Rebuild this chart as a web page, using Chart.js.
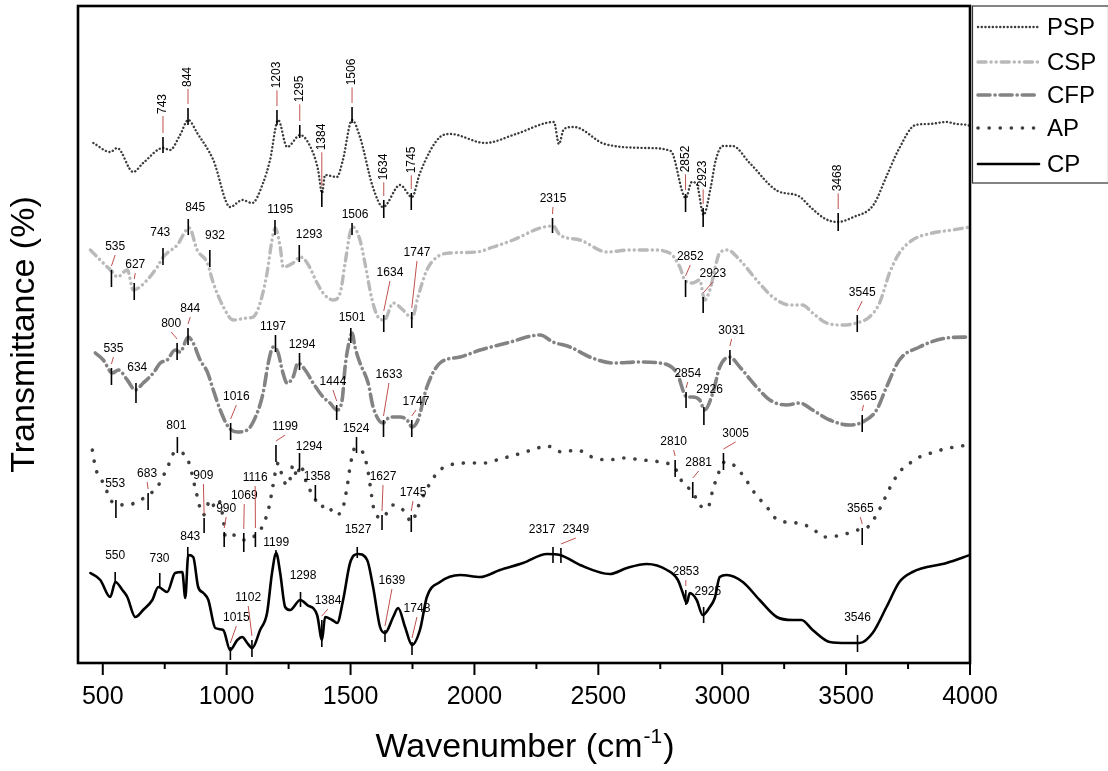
<!DOCTYPE html>
<html><head><meta charset="utf-8">
<script src="https://cdn.jsdelivr.net/npm/chart.js@4/dist/chart.umd.min.js"></script>
<style>html,body{margin:0;padding:0;background:#fff;}#wrap{width:1108px;height:771px;}</style>
</head><body><div id="wrap"><canvas id="c" width="1108" height="771"></canvas></div>
<script>
const seriesNames = ['PSP','CSP','CFP','AP','CP'];
const xTickValues = [500,1000,1500,2000,2500,3000,3500,4000];
const xTickLabels = ['500','1000','1500','2000','2500','3000','3500','4000'];
const xMinorTicks = [750,1250,1750,2250,2750,3250,3750];

const pspWn = [462,530,558,623,663,744,771,812,845,881,946,1014,1063,1103,1147,1175,1208,1244,1297,1349,1369,1385,1397,1445,1469,1506,1538,1590,1631,1700,1748,1780,1861,1903,2043,2168,2321,2341,2361,2402,2526,2696,2792,2853,2877,2897,2925,2953,2974,3002,3042,3111,3224,3308,3360,3417,3465,3530,3610,3667,3711,3780,3836,3905,3945,3990,4000];
const pspT  = [520,511,515,491,500,515,513,528,543,530,503,456,463,460,480,503,543,516,528,510,493,470,488,486,503,543,526,476,456,478,466,490,526,529,520,529,541,519,534,536,519,515,512,465,481,479,448,475,503,517,517,500,472,467,455,444,441,446,458,489,513,538,539,541,539,538,537];

const cspWn = [450,502,539,559,599,623,679,720,744,800,849,881,922,946,987,1026,1083,1107,1135,1163,1183,1196,1216,1228,1268,1297,1325,1365,1389,1430,1458,1478,1498,1510,1538,1558,1587,1611,1636,1672,1712,1748,1772,1808,1849,1901,2010,2076,2156,2265,2317,2345,2426,2535,2627,2720,2788,2829,2849,2881,2909,2929,2950,2990,3022,3071,3139,3204,3272,3324,3365,3421,3486,3542,3594,3635,3675,3715,3768,3849,3929,4000];
const cspT  = [413,400,391,386,393,373,383,396,406,418,435,413,400,380,356,343,345,346,360,390,423,435,416,396,400,406,400,380,370,363,370,400,430,436,423,400,363,346,343,360,353,345,366,393,406,410,411,416,423,435,437,428,423,411,413,413,410,396,383,380,383,363,373,410,413,403,383,366,358,358,350,340,338,340,346,360,390,410,423,430,433,436];

const cfpWn = [470,502,539,563,599,631,663,704,732,760,792,812,845,865,893,922,946,974,1007,1043,1083,1123,1147,1168,1188,1208,1224,1244,1268,1288,1317,1349,1389,1417,1445,1466,1478,1490,1506,1518,1538,1571,1591,1631,1659,1700,1728,1748,1772,1808,1861,1942,2023,2131,2265,2317,2386,2466,2559,2668,2748,2817,2857,2881,2909,2929,2962,2990,3030,3071,3139,3192,3260,3313,3365,3434,3514,3567,3623,3663,3715,3796,3905,4000];
const cfpT  = [310,303,290,293,283,273,280,290,300,303,313,311,326,320,303,291,273,253,236,231,233,250,270,300,316,310,293,280,286,300,293,280,266,260,253,263,296,316,330,316,300,280,256,240,246,246,243,236,243,276,300,306,313,320,328,321,316,306,300,301,300,290,266,266,263,253,270,296,306,296,276,263,258,260,253,243,238,241,253,276,303,316,325,326];

const apWn = [458,471,502,543,599,652,684,720,760,792,833,853,873,906,934,950,966,987,995,1026,1067,1107,1143,1168,1184,1196,1208,1228,1249,1268,1284,1297,1325,1349,1377,1405,1438,1470,1486,1498,1518,1551,1571,1580,1595,1627,1672,1712,1748,1772,1849,1901,1982,2043,2103,2164,2232,2293,2353,2414,2474,2539,2599,2680,2748,2809,2841,2881,2909,2941,2962,2982,3010,3051,3091,3131,3180,3224,3301,3361,3413,3482,3547,3588,3629,3657,3689,3730,3758,3796,3857,3897,3938,3990];
const apT  = [213,195,180,160,158,163,168,176,195,211,208,196,175,148,163,157,163,143,126,128,123,126,136,153,173,190,200,183,178,198,186,198,178,168,156,158,148,156,176,196,215,210,191,176,153,145,158,153,141,156,190,198,200,200,204,208,213,217,211,213,206,203,205,203,201,195,180,171,158,155,173,188,201,197,185,170,156,143,140,135,126,128,133,136,151,165,181,195,200,206,211,214,216,218];

const cpWn = [450,490,530,551,579,599,631,663,700,724,760,792,821,833,845,865,885,906,926,954,986,1014,1043,1063,1083,1103,1135,1163,1183,1200,1216,1236,1256,1297,1325,1365,1385,1397,1426,1446,1470,1498,1530,1567,1591,1619,1639,1672,1692,1720,1748,1780,1808,1861,1942,2023,2103,2196,2293,2345,2426,2547,2615,2696,2777,2821,2841,2857,2869,2897,2921,2950,2970,2990,3018,3083,3151,3220,3284,3320,3365,3434,3502,3554,3607,3663,3715,3768,3905,4000];
const cpT  = [90,83,66,81,73,66,46,53,63,76,71,90,91,65,108,106,76,70,63,35,33,13,23,26,20,15,33,50,90,110,90,56,53,63,58,48,23,46,43,40,63,100,109,103,76,36,30,46,55,36,18,33,66,81,88,86,93,100,109,108,98,89,95,99,93,83,70,60,70,63,48,56,65,86,88,81,63,46,43,43,33,21,20,20,30,56,81,91,100,108];

// peak annotations: [wavenumber, tick top, tick bottom, label wavenumber, label level]
const pspPeaks = [[743,526,510,743,559],[844,555,538,844,586],[1203,553,538,1203,588],[1295,538,525,1295,574],[1384,473,456,1384,526],[1506,556,540,1506,591],[1634,463,445,1634,496],[1745,470,453,1745,503],[2852,469,451,2852,504],[2923,455,436,2923,489],[3468,450,432,3468,485]];
const cspPeaks = [[535,393,376,550,416],[627,380,363,631,398],[743,415,398,732,430],[845,444,428,873,455],[932,413,396,953,427],[1195,443,428,1216,453],[1293,418,401,1333,428],[1506,440,428,1518,448],[1634,348,331,1659,390],[1747,351,335,1768,410],[2315,445,430,2317,464],[2852,383,366,2871,406],[2923,366,350,2962,389],[3545,348,331,3565,370]];
const cfpPeaks = [[535,295,278,543,314],[634,280,260,639,295],[800,320,303,776,339],[844,335,318,853,354],[1016,240,223,1039,266],[1197,328,311,1187,336],[1294,310,293,1304,318],[1444,258,243,1429,281],[1501,335,320,1506,345],[1633,243,226,1655,288],[1747,243,226,1764,261],[2854,271,255,2861,289],[2926,256,238,2949,273],[3031,313,298,3038,332],[3565,248,231,3570,266]];
const apPeaks = [[553,163,145,550,179],[683,170,153,679,189],[801,226,210,797,237],[909,145,130,906,187],[990,131,116,998,154],[1069,130,111,1071,167],[1116,131,116,1115,185],[1199,218,201,1236,236],[1294,210,193,1333,216],[1358,178,163,1365,186],[1524,226,210,1522,234],[1627,148,133,1631,186],[1745,148,131,1752,170],[2810,203,186,2804,221],[2881,181,165,2905,200],[3005,210,193,3054,229],[3565,135,118,3557,154]];
const cpPeaks = [[550,91,81,550,107],[730,90,75,729,104],[843,116,106,853,126],[1015,16,3,1039,45],[1102,23,6,1087,65],[1199,113,106,1200,120],[1298,71,56,1308,87],[1384,43,16,1409,62],[1527,116,105,1530,133],[1639,33,21,1667,82],[1748,21,8,1768,54],[2317,116,100,2273,133],[2349,115,100,2409,133],[2853,73,58,2853,91],[2925,56,40,2942,71],[3546,28,11,3546,45]];

const FONT = "Arial, 'Liberation Sans', Helvetica, sans-serif";
const pts = (w, t) => w.map((v, i) => ({x: v, y: t[i]}));

const styles = [
  {color:'#3c3c3c', width:2.4, dash:[0.1,3.6]},
  {color:'#b9b9b9', width:3.4, dash:[8,5,0.1,5,0.1,5]},
  {color:'#838383', width:3.6, dash:[12,5,0.1,5]},
  {color:'#3f3f3f', width:3.6, dash:[0.1,11]},
  {color:'#000000', width:2.6, dash:[]}
];
const allWn = [pspWn, cspWn, cfpWn, apWn, cpWn];
const allT = [pspT, cspT, cfpT, apT, cpT];
const allPeaks = [pspPeaks, cspPeaks, cfpPeaks, apPeaks, cpPeaks];

const datasets = seriesNames.map((n, i) => ({
  label: n,
  data: pts(allWn[i], allT[i]),
  borderColor: styles[i].color,
  borderWidth: styles[i].width,
  borderDash: styles[i].dash,
  borderCapStyle: 'round',
  borderJoinStyle: 'round',
  pointRadius: 0,
  fill: false,
  cubicInterpolationMode: 'monotone'
}));

function drawPeaks(ctx, x, y, arr, rotated) {
  ctx.font = '12px ' + FONT;
  arr.forEach(p => {
    const xs = x.getPixelForValue(p[0]);
    const yt = y.getPixelForValue(p[1]);
    const yb = y.getPixelForValue(p[2]);
    const lx = x.getPixelForValue(p[3]);
    const ly = y.getPixelForValue(p[4]);
    const txt = String(p[0]);
    ctx.strokeStyle = '#c0504d';
    ctx.lineWidth = 1;
    ctx.setLineDash([]);
    if (rotated) {
      const half = ctx.measureText(txt).width / 2;
      const y0 = ly + half + 2, y1 = yt - 4;
      if (y1 - y0 > 4) { ctx.beginPath(); ctx.moveTo(xs, y0); ctx.lineTo(xs, y1); ctx.stroke(); }
    } else {
      const y0 = ly + 8, y1 = yt - 4;
      if (y1 - y0 > 5) { ctx.beginPath(); ctx.moveTo(lx, y0); ctx.lineTo(xs, y1); ctx.stroke(); }
    }
    ctx.strokeStyle = '#000';
    ctx.lineWidth = 1.6;
    ctx.beginPath(); ctx.moveTo(xs, yt); ctx.lineTo(xs, yb); ctx.stroke();
    ctx.fillStyle = '#000';
    ctx.textAlign = 'center';
    ctx.textBaseline = 'middle';
    if (rotated) {
      ctx.save(); ctx.translate(xs, ly); ctx.rotate(-Math.PI / 2);
      ctx.fillText(txt, 0, 0); ctx.restore();
    } else {
      ctx.fillText(txt, lx, ly);
    }
  });
}

const overlay = {
  id: 'overlay',
  afterDatasetsDraw(chart) {
    const {ctx, scales: {x, y}} = chart;
    ctx.save();
    allPeaks.forEach((arr, i) => drawPeaks(ctx, x, y, arr, i === 0));
    ctx.restore();
  },
  afterDraw(chart) {
    const {ctx, chartArea: a, scales: {x}} = chart;
    ctx.save();
    ctx.strokeStyle = '#000'; ctx.lineWidth = 2.6; ctx.setLineDash([]);
    ctx.strokeRect(a.left, a.top, a.right - a.left, a.bottom - a.top);
    ctx.lineWidth = 2;
    xTickValues.forEach(v => { const px = x.getPixelForValue(v); ctx.beginPath(); ctx.moveTo(px, a.bottom); ctx.lineTo(px, a.bottom + 12); ctx.stroke(); });
    xMinorTicks.forEach(v => { const px = x.getPixelForValue(v); ctx.beginPath(); ctx.moveTo(px, a.bottom); ctx.lineTo(px, a.bottom + 6); ctx.stroke(); });
    const main1 = 'Wavenumber (cm', sup = '-1', main2 = ')';
    ctx.fillStyle = '#000'; ctx.textBaseline = 'alphabetic'; ctx.textAlign = 'left';
    ctx.font = '34px ' + FONT; const w1 = ctx.measureText(main1).width; const w3 = ctx.measureText(main2).width;
    ctx.font = '21px ' + FONT; const w2 = ctx.measureText(sup).width;
    const cx = (a.left + a.right) / 2; let sx = cx - (w1 + w2 + w3) / 2; const base = 757;
    ctx.font = '34px ' + FONT; ctx.fillText(main1, sx, base); sx += w1;
    ctx.font = '21px ' + FONT; ctx.fillText(sup, sx + 1, base - 14); sx += w2 + 2;
    ctx.font = '34px ' + FONT; ctx.fillText(main2, sx, base);
    const lx0 = 972, ly0 = 6;
    ctx.lineWidth = 1.2; ctx.strokeStyle = '#333';
    ctx.strokeRect(lx0 + 0.5, ly0, 1108 - lx0, 177);
    const rows = [27, 62, 95, 128, 164];
    seriesNames.forEach((n, i) => {
      const st = styles[i];
      ctx.strokeStyle = st.color; ctx.lineWidth = st.width; ctx.setLineDash(st.dash); ctx.lineCap = 'round';
      ctx.beginPath(); ctx.moveTo(978, rows[i]); ctx.lineTo(1039, rows[i]); ctx.stroke();
      ctx.setLineDash([]);
      ctx.fillStyle = '#000'; ctx.font = '24px ' + FONT; ctx.textBaseline = 'middle'; ctx.textAlign = 'left';
      ctx.fillText(n, 1047, rows[i] + 1);
    });
    ctx.restore();
  }
};

new Chart(document.getElementById('c'), {
  type: 'line',
  data: { datasets },
  plugins: [overlay],
  options: {
    responsive: false, animation: false, devicePixelRatio: 1,
    layout: { padding: { top: 6, right: 138, left: 0, bottom: 0 } },
    plugins: { legend: { display: false }, tooltip: { enabled: false } },
    scales: {
      x: {
        type: 'linear', min: 400, max: 4000, position: 'bottom',
        afterBuildTicks: s => { s.ticks = xTickValues.map(v => ({ value: v })); },
        afterFit: s => { s.height = 108; },
        grid: { display: false, drawTicks: false },
        border: { display: false },
        ticks: { font: { size: 25, family: FONT }, color: '#000', padding: 19, maxRotation: 0, autoSkip: false,
          callback: v => { const i = xTickValues.indexOf(v); return i >= 0 ? xTickLabels[i] : ''; } }
      },
      y: {
        type: 'linear', min: 0, max: 657,
        afterFit: s => { s.width = 78; },
        grid: { display: false, drawTicks: false },
        border: { display: false },
        ticks: { display: false },
        title: { display: true, text: 'Transmittance (%)', font: { size: 34, family: FONT }, color: '#000', padding: { top: 4, bottom: 0 } }
      }
    }
  }
});
</script></body></html>
